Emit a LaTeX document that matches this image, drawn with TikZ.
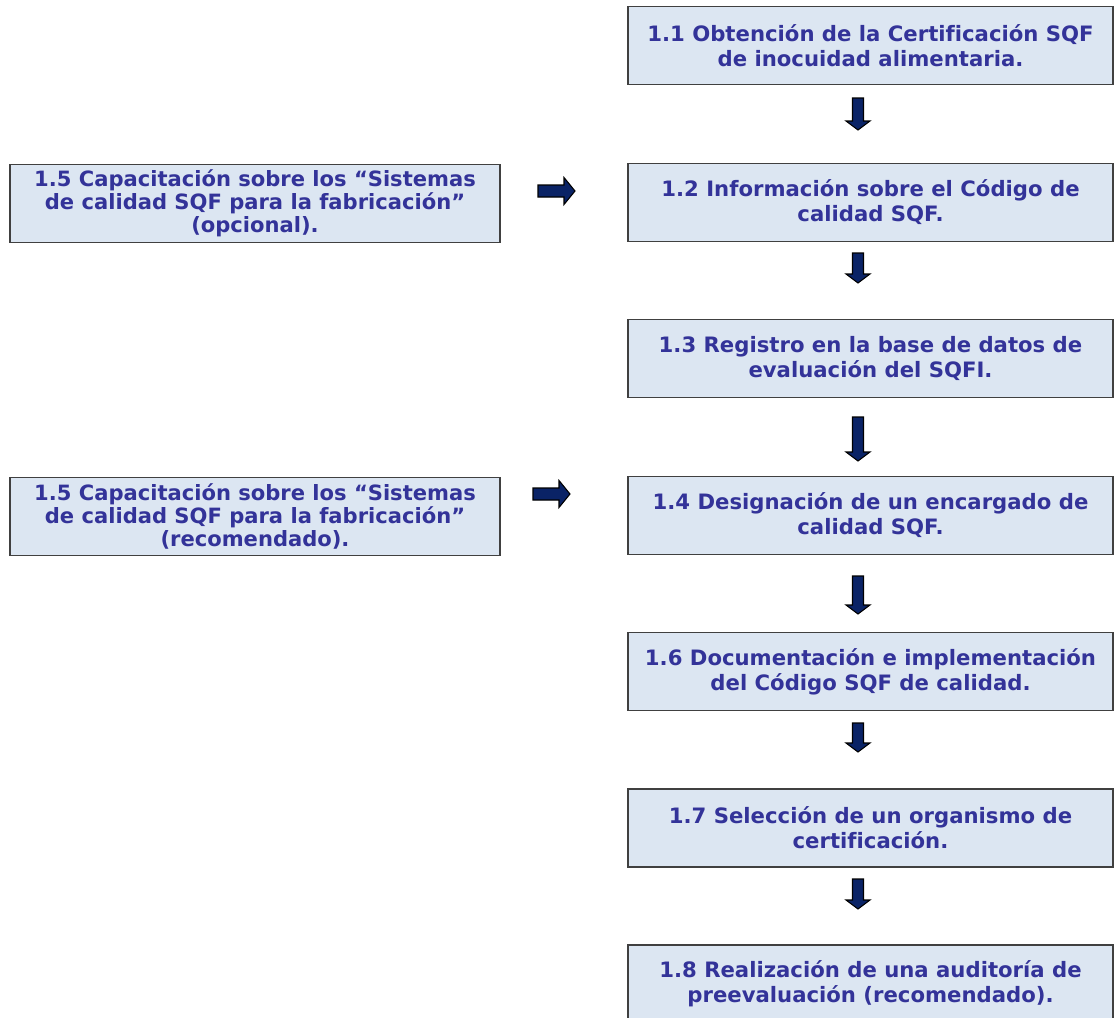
\documentclass[tikz,border=0pt]{standalone}
\usepackage{fontspec}
\setmainfont[Ligatures=NoCommon]{DejaVu Sans}
\definecolor{boxfill}{HTML}{DCE6F2}
\definecolor{boxline}{HTML}{404040}
\definecolor{stepblue}{HTML}{333399}
\definecolor{arrownavy}{HTML}{0A2366}
\tikzset{
  stepbox/.style={draw=boxline, line width=1.2pt, fill=boxfill, text=stepblue,
    minimum width=485*0.75pt, minimum height=78*0.75pt, align=center,
    font=\bfseries\fontsize{15.9}{18.75}\selectfont},
  sidebox/.style={draw=boxline, line width=1.2pt, fill=boxfill, text=stepblue,
    minimum width=490*0.75pt, minimum height=78*0.75pt, align=center,
    font=\bfseries\fontsize{15.8}{17.25}\selectfont},
  blockarrow/.style={fill=arrownavy, draw=black, line width=0.8pt, line join=miter}
}
% block arrow pointing down: x, top, tip
\newcommand{\blockdown}[3]{%
  \filldraw[blockarrow] (#1-5.5,#2) -- (#1+5.5,#2) -- (#1+5.5,#3-9) -- (#1+12,#3-9)
    -- (#1,#3) -- (#1-12,#3-9) -- (#1-5.5,#3-9) -- cycle;}
% block arrow pointing right: left, tip, y
\newcommand{\blockright}[3]{%
  \filldraw[blockarrow] (#1,#3-6) -- (#2-11,#3-6) -- (#2-11,#3-13.5) -- (#2,#3)
    -- (#2-11,#3+13.5) -- (#2-11,#3+6) -- (#1,#3+6) -- cycle;}
\begin{document}
\begin{tikzpicture}[x=0.75pt, y=-0.75pt]
  \clip (0,0) rectangle (1115,1018);
  \fill[white] (0,0) rectangle (1115,1018);

  % steps on the right
  \node[stepbox] (s11) at (870.5,45.5) {1.1 Obtención de la Certificación SQF\\de inocuidad alimentaria.};
  \node[stepbox] (s12) at (870.5,202.5) {1.2 Información sobre el Código de\\calidad SQF.};
  \node[stepbox] (s13) at (870.5,358.5) {1.3 Registro en la base de datos de\\evaluación del SQFI.};
  \node[stepbox] (s14) at (870.5,515.5) {1.4 Designación de un encargado de\\calidad SQF.};
  \node[stepbox] (s16) at (870.5,671.5) {1.6 Documentación e implementación\\del Código SQF de calidad.};
  \node[stepbox] (s17) at (870.5,828) {1.7 Selección de un organismo de\\certificación.};
  \node[stepbox] (s18) at (870.5,984) {1.8 Realización de una auditoría de\\preevaluación (recomendado).};

  % training boxes on the left
  \node[sidebox] (c15a) at (255,203.5) {1.5 Capacitación sobre los “Sistemas\\de calidad SQF para la fabricación”\\(opcional).};
  \node[sidebox] (c15b) at (255,516.5) {1.5 Capacitación sobre los “Sistemas\\de calidad SQF para la fabricación”\\(recomendado).};

  % arrows
  \blockdown{858}{98}{130}
  \blockdown{858}{253}{283}
  \blockdown{858}{417}{461}
  \blockdown{858}{576}{614}
  \blockdown{858}{723}{752}
  \blockdown{858}{879}{909}
  \blockright{538}{575}{191}
  \blockright{533}{570}{494}
\end{tikzpicture}
\end{document}
